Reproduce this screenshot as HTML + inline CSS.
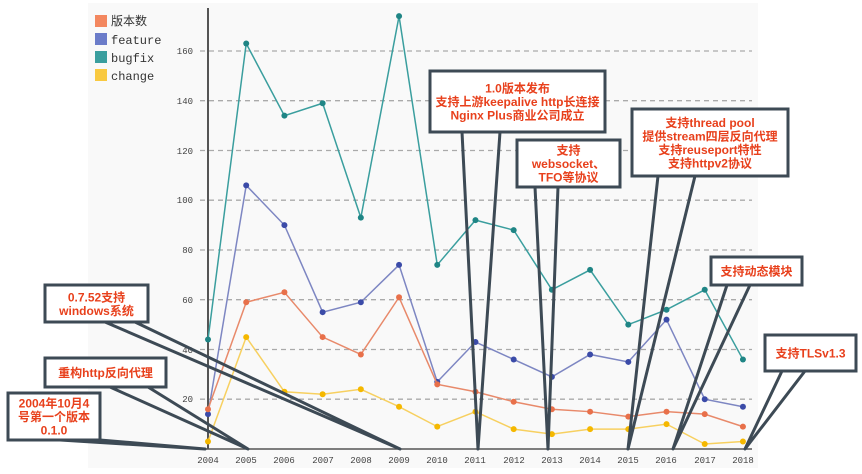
<!DOCTYPE html>
<html><head><meta charset="utf-8"><style>
body{margin:0;background:#fff;}
svg{display:block;font-family:"Liberation Sans","Noto Sans CJK SC",sans-serif;}
</style></head><body>
<svg width="862" height="474" viewBox="0 0 862 474" xmlns="http://www.w3.org/2000/svg">
<rect x="88" y="3" width="670" height="465" fill="#f9f9f9"/>
<g stroke="#aaa" stroke-width="1.3" stroke-dasharray="5,4">
<line x1="200" x2="752" y1="51" y2="51"/><line x1="200" x2="752" y1="100.7" y2="100.7"/>
<line x1="200" x2="752" y1="150.5" y2="150.5"/><line x1="200" x2="752" y1="200.2" y2="200.2"/>
<line x1="200" x2="752" y1="250" y2="250"/><line x1="200" x2="752" y1="299.7" y2="299.7"/>
<line x1="200" x2="752" y1="349.5" y2="349.5"/><line x1="200" x2="752" y1="399.2" y2="399.2"/>
</g>
<g font-size="9" fill="#444" text-anchor="end" font-family="Liberation Mono,monospace">
<text x="193" y="54">160</text><text x="193" y="104">140</text><text x="193" y="154">120</text>
<text x="193" y="203">100</text><text x="193" y="253">80</text><text x="193" y="303">60</text>
<text x="193" y="353">40</text><text x="193" y="402">20</text>
</g>
<line x1="208" y1="8" x2="208" y2="449" stroke="#555" stroke-width="2"/>
<line x1="200" y1="449" x2="752" y2="449" stroke="#555" stroke-width="1.5"/>
<g font-size="9" fill="#444" text-anchor="middle" font-family="Liberation Mono,monospace">
<text x="208" y="463">2004</text><text x="246" y="463">2005</text><text x="284" y="463">2006</text><text x="323" y="463">2007</text><text x="361" y="463">2008</text><text x="399" y="463">2009</text><text x="437" y="463">2010</text><text x="475" y="463">2011</text><text x="514" y="463">2012</text><text x="552" y="463">2013</text><text x="590" y="463">2014</text><text x="628" y="463">2015</text><text x="666" y="463">2016</text><text x="705" y="463">2017</text><text x="743" y="463">2018</text>
</g>
<g font-size="12" font-family="Liberation Mono,'Noto Sans CJK SC',monospace" fill="#333">
<rect x="95" y="15" width="12" height="12" fill="#f3875f"/><text x="111" y="25">版本数</text>
<rect x="95" y="33" width="12" height="12" fill="#6b7cc9"/><text x="111" y="44">feature</text>
<rect x="95" y="51" width="12" height="12" fill="#3a9e9e"/><text x="111" y="62">bugfix</text>
<rect x="95" y="69" width="12" height="12" fill="#f9c940"/><text x="111" y="80">change</text>
</g>
<g id="series"></g>
<g id="callouts"></g>
</svg>
<script>
const NS="http://www.w3.org/2000/svg";
const X=i=>208+i*38.21, Y=v=>449-v*2.4875;
const data=[
["#3a9e9e",[44,163,134,139,93,174,74,92,88,64,72,50,56,64,36],"#1f8585"],
["#7d86c2",[14,106,90,55,59,74,27,43,36,29,38,35,52,20,17],"#3b4ba8"],
["#e8896a",[16,59,63,45,38,61,26,23,19,16,15,13,15,14,9],"#e8704a"],
["#f7d060",[3,45,23,22,24,17,9,15,8,6,8,8,10,2,3],"#f5b800"]];
const g=document.getElementById("series");
data.forEach(([c,d,dc])=>{
 const p=document.createElementNS(NS,"polyline");
 p.setAttribute("points",d.map((v,i)=>X(i)+","+Y(v)).join(" "));
 p.setAttribute("fill","none");p.setAttribute("stroke",c);p.setAttribute("stroke-width","1.5");g.appendChild(p);
 d.forEach((v,i)=>{const e=document.createElementNS(NS,"circle");e.setAttribute("cx",X(i));e.setAttribute("cy",Y(v));e.setAttribute("r","3");e.setAttribute("fill",dc);g.appendChild(e);});
});
const co=[
[8,393,92,47,[60,100],[205,449],["2004年10月4","号第一个版本","0.1.0"]],
[45,358,121,29,[110,148],[248,449],["重构http反向代理"]],
[45,285,103,37,[105,135],[400,449],["0.7.52支持","windows系统"]],
[430,71,175,61,[462,500],[478,449],["1.0版本发布","支持上游keepalive http长连接","Nginx Plus商业公司成立"]],
[517,140,103,47,[535,558],[548,449],["支持","websocket、","TFO等协议"]],
[632,109,156,67,[658,695],[628,449],["支持thread pool","提供stream四层反向代理","支持reuseport特性","支持httpv2协议"]],
[711,257,91,28,[727,750],[673,449],["支持动态模块"]],
[765,335,91,36,[782,805],[745,449],["支持TLSv1.3"]]];
const cg=document.getElementById("callouts");
co.forEach(([x,y,w,h,[a,b],[px,py],lines])=>{
 const by=y+h;
 const pl=document.createElementNS(NS,"polyline");
 pl.setAttribute("points",`${a},${by} ${px},${py} ${b},${by}`);
 pl.setAttribute("fill","none");pl.setAttribute("stroke","#3d4a55");pl.setAttribute("stroke-width","3");pl.setAttribute("stroke-linejoin","round");cg.appendChild(pl);
 const r=document.createElementNS(NS,"rect");
 r.setAttribute("x",x);r.setAttribute("y",y);r.setAttribute("width",w);r.setAttribute("height",h);
 r.setAttribute("fill","#fff");r.setAttribute("stroke","#3d4a55");r.setAttribute("stroke-width","3");cg.appendChild(r);
 const lh=13.5, start=y+h/2-(lines.length-1)*lh/2+4.5;
 lines.forEach((t,i)=>{const e=document.createElementNS(NS,"text");e.setAttribute("x",x+w/2);e.setAttribute("y",start+i*lh);
 e.setAttribute("text-anchor","middle");e.setAttribute("font-size","12");e.setAttribute("font-weight","bold");e.setAttribute("fill","#e8401c");e.textContent=t;cg.appendChild(e);});
});
</script>
</body></html>
